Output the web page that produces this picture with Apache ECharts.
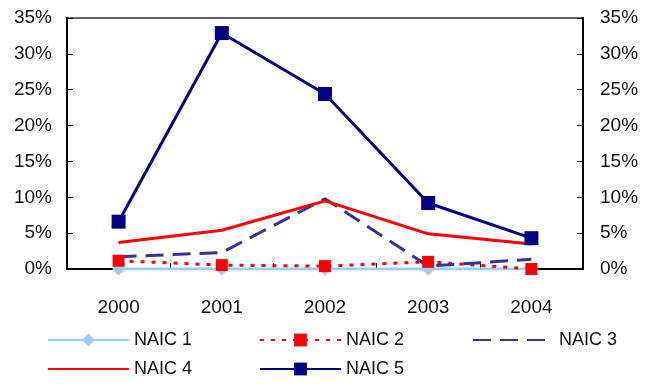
<!DOCTYPE html>
<html>
<head>
<meta charset="utf-8">
<script src="https://cdn.jsdelivr.net/npm/echarts@6/dist/echarts.min.js"></script>
<style>
html,body{margin:0;padding:0;background:#fff;}
#c{width:652px;height:384px;}
</style>
</head>
<body>
<div id="c"></div>
<script>
var years = ['2000', '2001', '2002', '2003', '2004'];
var naic1 = [0, 0, 0, 0, 0];
var naic2 = [1.15, 0.55, 0.4, 1.0, 0.0];
var naic3 = [1.7, 2.3, 9.8, 0.4, 1.35];
var naic4 = [3.7, 5.4, 9.5, 4.9, 3.5];
var naic5 = [6.6, 32.9, 24.4, 9.2, 4.3];
var seriesNames = ['NAIC 1', 'NAIC 2', 'NAIC 3', 'NAIC 4', 'NAIC 5'];
var yTicks = [0, 5, 10, 15, 20, 25, 30, 35];

var FONT = '"Liberation Sans", Arial, sans-serif';
var chart = echarts.init(document.getElementById('c'), null, {renderer: 'canvas'});

function yAxis(pos) {
  return {
    type: 'value', position: pos,
    min: yTicks[0], max: yTicks[yTicks.length - 1], interval: 5,
    axisLine: {show: true, lineStyle: {color: '#000', width: 2}},
    axisTick: {show: true, inside: true, length: 6, lineStyle: {color: '#000', width: 1}},
    splitLine: {show: false},
    axisLabel: {
      formatter: '{value}%', color: '#111', fontFamily: FONT, fontSize: 19,
      margin: pos === 'left' ? 15 : 17
    }
  };
}

function legendItem(name, left, top) {
  return {
    data: [name], left: left, top: top, orient: 'horizontal',
    itemWidth: 81, itemHeight: 16, itemGap: 6, padding: 0,
    textStyle: {fontFamily: FONT, fontSize: 18, color: '#111'},
    selectedMode: false
  };
}

var clear = 'rgba(0,0,0,0)';
var option = {
  animation: false,
  backgroundColor: '#fff',
  grid: {left: 67, right: 69, top: 18, bottom: 115, show: true, borderColor: '#666', borderWidth: 2},
  xAxis: {
    type: 'category', data: years, boundaryGap: true,
    axisLine: {lineStyle: {color: '#000', width: 2}},
    axisTick: {show: true, inside: true, length: 6, alignWithLabel: false, lineStyle: {color: '#000', width: 1}},
    axisLabel: {color: '#111', fontFamily: FONT, fontSize: 19, margin: 29}
  },
  yAxis: [yAxis('left'), yAxis('right')],
  legend: [
    legendItem('NAIC 1', 47, 331),
    legendItem('NAIC 2', 259, 331),
    legendItem('NAIC 3', 472, 331),
    legendItem('NAIC 4', 47, 360),
    legendItem('NAIC 5', 259, 360)
  ],
  series: [
    {name: seriesNames[0], type: 'line', data: naic1, yAxisIndex: 0,
     symbol: 'diamond', symbolSize: 13,
     itemStyle: {color: '#99CCFF'}, lineStyle: {color: '#99CCFF', width: 3}},
    {name: seriesNames[1], type: 'line', data: naic2, yAxisIndex: 0,
     symbol: 'rect', symbolSize: 12,
     itemStyle: {color: '#FF0000'}, lineStyle: {color: '#FF0000', width: 3, type: [4, 7]}},
    {name: seriesNames[2], type: 'line', data: naic3, yAxisIndex: 0,
     symbol: 'circle', showSymbol: false,
     itemStyle: {color: clear}, lineStyle: {color: '#333399', width: 3, type: [18, 9]}},
    {name: seriesNames[3], type: 'line', data: naic4, yAxisIndex: 0,
     symbol: 'circle', showSymbol: false,
     itemStyle: {color: clear}, lineStyle: {color: '#FF0000', width: 3}},
    {name: seriesNames[4], type: 'line', data: naic5, yAxisIndex: 0,
     symbol: 'rect', symbolSize: 14,
     itemStyle: {color: '#000080'}, lineStyle: {color: '#000080', width: 3}}
  ]
};
chart.setOption(option);
</script>
</body>
</html>
